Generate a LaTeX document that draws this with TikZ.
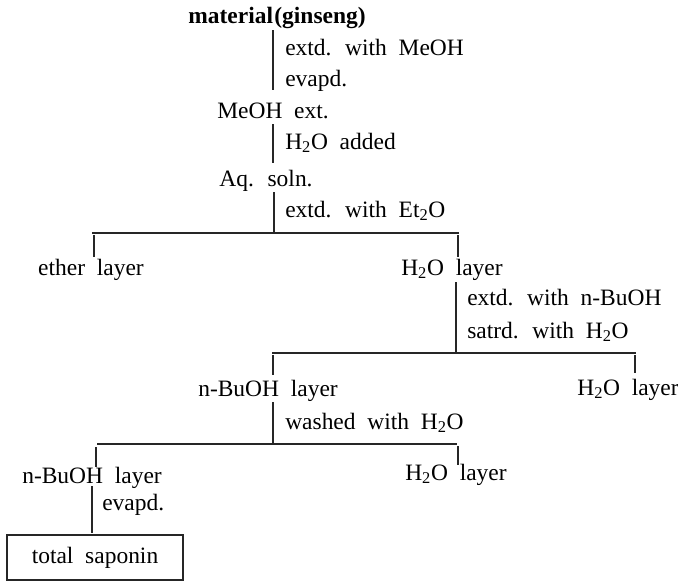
\documentclass[tikz,border=0pt]{standalone}
\usepackage{fontspec}
\setmainfont[WordSpace=2]{Liberation Serif}
\begin{document}
\begin{tikzpicture}[x=0.75pt,y=-0.75pt,
  txt/.style={inner sep=0pt, text=black, font=\fontsize{17.6}{21}\selectfont},
  lt/.style={txt, anchor=base west},
  ct/.style={txt, anchor=base},
  bt/.style={inner sep=0pt, text=black, anchor=base, font=\fontsize{17.6}{21}\selectfont\bfseries},
  conn/.style={draw=black!85, line width=0.8pt},
  bar/.style={draw=black!85, line width=0.9pt},
  resbox/.style={txt, draw=black!85, line width=0.8pt, minimum width=132pt, minimum height=33.75pt}]
\useasboundingbox (0,0) rectangle (678,583);

% texts
\node[bt] (mat) at (277,23) {material\kern1pt(ginseng)};
\node[lt] (l1) at (285,55) {extd. with MeOH};
\node[lt] (l2) at (285,86) {evapd.};
\node[ct] (meoh) at (273,118) {MeOH ext.};
\node[lt] (l3) at (285,149) {H\textsubscript{2}O added};
\node[ct] (aq) at (266,186) {Aq. soln.};
\node[lt] (l4) at (285,217) {extd. with Et\textsubscript{2}O};
\node[ct] (ether) at (91,275) {ether layer};
\node[ct] (w1) at (452,275) {H\textsubscript{2}O layer};
\node[lt] (l5) at (467,305) {extd. with n-BuOH};
\node[lt] (l6) at (467,338) {satrd. with H\textsubscript{2}O};
\node[ct] (bu1) at (268,396) {n-BuOH layer};
\node[ct] (w2) at (628,395) {H\textsubscript{2}O layer};
\node[lt] (l7) at (285,429) {washed with H\textsubscript{2}O};
\node[ct] (bu2) at (92,483) {n-BuOH layer};
\node[ct] (w3) at (456,480) {H\textsubscript{2}O layer};
\node[lt] (l8) at (102,510) {evapd.};
\node[resbox] (ts) at (95,557.5) {total saponin};

% connector points
\coordinate (v1a) at (273,30);  \coordinate (v1b) at (273,90);
\coordinate (v2a) at (273,124); \coordinate (v2b) at (273,163);
\coordinate (v3a) at (274,192); \coordinate (v3b) at (274,233);
\coordinate (h1a) at (92,233);  \coordinate (h1b) at (459,233);
\coordinate (t1a) at (94,235);  \coordinate (t1b) at (94,257);
\coordinate (t2a) at (458,235); \coordinate (t2b) at (458,257);
\coordinate (v4a) at (456,282); \coordinate (v4b) at (456,353);
\coordinate (h2a) at (272,353); \coordinate (h2b) at (636,353);
\coordinate (t3a) at (273,355); \coordinate (t3b) at (273,375);
\coordinate (t4a) at (635,355); \coordinate (t4b) at (635,373);
\coordinate (v5a) at (273,402); \coordinate (v5b) at (273,444);
\coordinate (h3a) at (97,444);  \coordinate (h3b) at (457,444);
\coordinate (t5a) at (96,447);  \coordinate (t5b) at (96,467);
\coordinate (t6a) at (458,446); \coordinate (t6b) at (458,465);
\coordinate (v6a) at (92,486);  \coordinate (v6b) at (92,533);

\draw[conn] (v1a) -- (v1b);
\draw[conn] (v2a) -- (v2b);
\draw[conn] (v3a) -- (v3b);
\draw[bar]  (h1a) -- (h1b);
\draw[conn] (t1a) -- (t1b);
\draw[conn] (t2a) -- (t2b);
\draw[conn] (v4a) -- (v4b);
\draw[bar]  (h2a) -- (h2b);
\draw[conn] (t3a) -- (t3b);
\draw[conn] (t4a) -- (t4b);
\draw[conn] (v5a) -- (v5b);
\draw[bar]  (h3a) -- (h3b);
\draw[conn] (t5a) -- (t5b);
\draw[conn] (t6a) -- (t6b);
\draw[conn] (v6a) -- (v6b);
\end{tikzpicture}
\end{document}
